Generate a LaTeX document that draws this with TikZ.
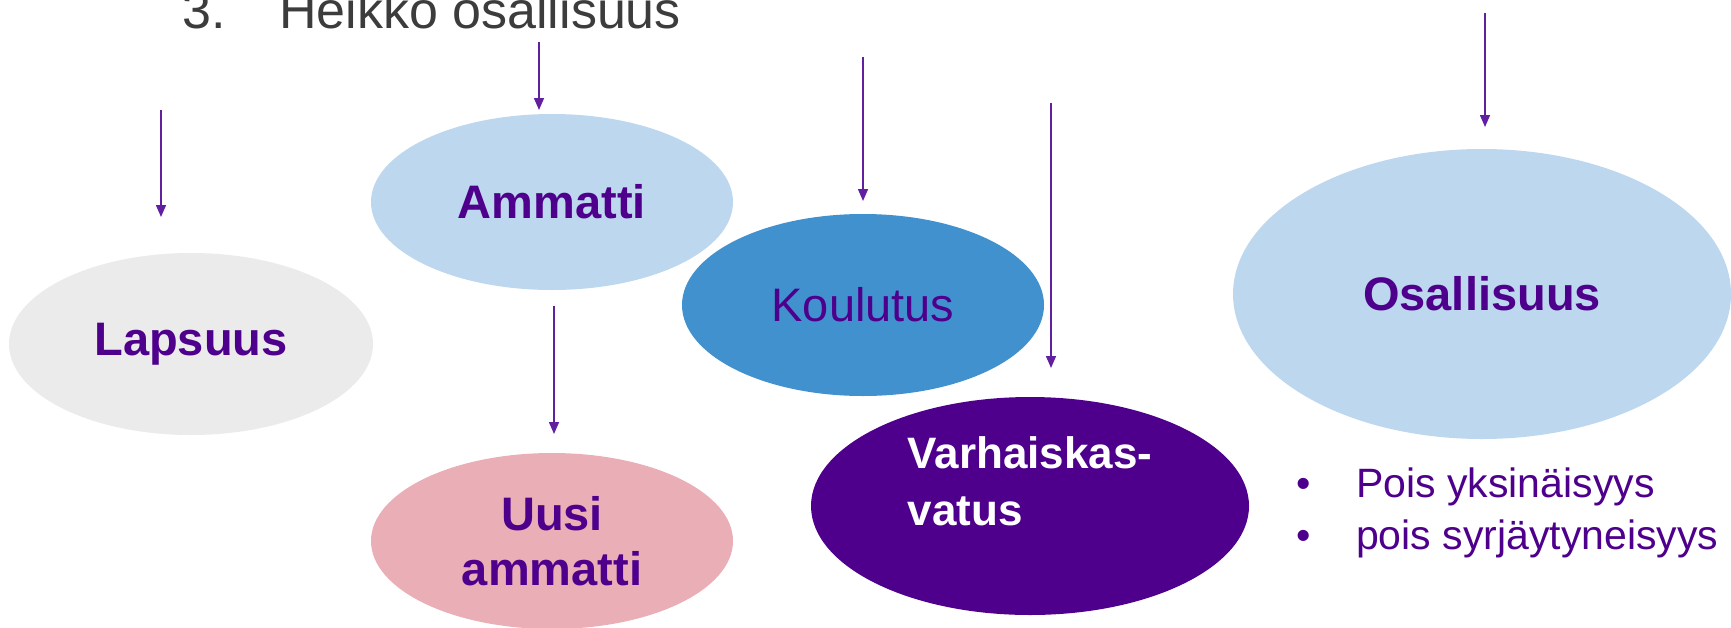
\documentclass[tikz,border=0pt]{standalone}
\usepackage{fontspec}
\setmainfont{Liberation Sans}
\usepackage{tikz}
\usetikzlibrary{shapes,arrows.meta}
\definecolor{violetti}{RGB}{78,0,140}
\definecolor{nuolenvari}{RGB}{96,32,160}
\definecolor{harmaa}{RGB}{235,235,235}
\definecolor{vaaleansininen}{RGB}{189,215,238}
\definecolor{roosa}{RGB}{234,175,182}
\definecolor{sininen}{RGB}{66,145,207}
\definecolor{otsikkovari}{RGB}{60,60,60}
\newcommand{\ovalsize}{\fontsize{47}{55}\selectfont}
\newcommand{\listsize}{\fontsize{41}{52}\selectfont}

\begin{document}
\begin{tikzpicture}[x=1pt, y=-1pt]
        \tikzset{
            oval/.style = {ellipse, inner sep=0pt, text=violetti, font=\ovalsize\bfseries, align=center},
            nuoli/.style = {draw=nuolenvari, line width=1.5pt, -{Triangle[width=10pt,length=12pt]}},
            lista/.style = {anchor=base west, inner sep=0pt, text=violetti, font=\listsize}
        }
        \useasboundingbox (0,0) rectangle (1731,627);
        \begin{scope}
        %\draw[help lines] (0,0) grid[step=100] (1731,627);
            \node[anchor=base west, inner sep=0pt, text=otsikkovari, font=\fontsize{52}{60}\selectfont] (otsikko) at (182,28) {\makebox[97pt][l]{3.}Heikko osallisuus};

            \node[oval, fill=harmaa, minimum width=364pt, minimum height=182pt] (lapsuus) at (191,344) {Lapsuus};
            \node[oval, fill=vaaleansininen, minimum width=362pt, minimum height=176pt] (ammatti) at (552,202) {Ammatti};
            \node[oval, fill=roosa, minimum width=362pt, minimum height=176pt] (uusi) at (552,541) {Uusi\\ammatti};
            \node[oval, fill=sininen, minimum width=362pt, minimum height=182pt, font=\ovalsize] (koulutus) at (863,305) {Koulutus};
            \node[oval, fill=violetti, minimum width=438pt, minimum height=218pt] (varhais) at (1030,506) {};
            \node[inner sep=0pt, text=white, font=\fontsize{44}{57}\selectfont\bfseries, align=left] (varhaisteksti) at ([yshift=25pt]varhais.center) {Varhaiskas-\\vatus};
            \node[oval, fill=vaaleansininen, minimum width=498pt, minimum height=290pt] (osallisuus) at (1482,294) {Osallisuus};

            \node[lista] (pois1) at (1296,497) {\makebox[60pt][l]{•}Pois yksinäisyys};
            \node[lista] (pois2) at (1296,549) {\makebox[60pt][l]{•}pois syrjäytyneisyys};

            \coordinate (n1a) at (161,110);  \coordinate (n1b) at (161,217);
            \coordinate (n2a) at (539,42);   \coordinate (n2b) at (539,110);
            \coordinate (n3a) at (554,306);  \coordinate (n3b) at (554,434);
            \coordinate (n4a) at (863,57);   \coordinate (n4b) at (863,201);
            \coordinate (n5a) at (1051,103); \coordinate (n5b) at (1051,368);
            \coordinate (n6a) at (1485,13);  \coordinate (n6b) at (1485,127);

            \draw[nuoli] (n1a) -- (n1b);
            \draw[nuoli] (n2a) -- (n2b);
            \draw[nuoli] (n3a) -- (n3b);
            \draw[nuoli] (n4a) -- (n4b);
            \draw[nuoli] (n5a) -- (n5b);
            \draw[nuoli] (n6a) -- (n6b);
        \end{scope}
    \end{tikzpicture}
\end{document}
